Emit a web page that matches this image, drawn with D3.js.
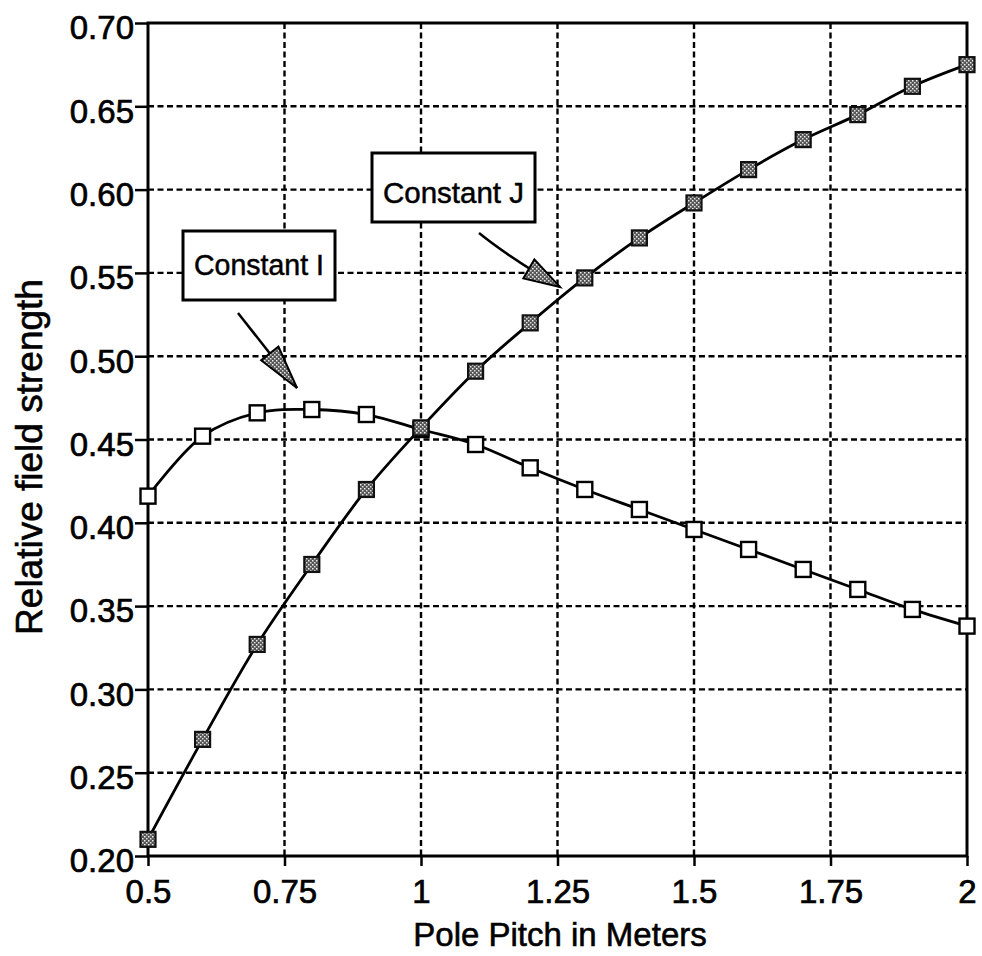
<!DOCTYPE html>
<html><head><meta charset="utf-8">
<script src="https://cdn.jsdelivr.net/npm/d3@7"></script>
<style>body{margin:0;background:#fff}svg{display:block}text{font-family:"Liberation Sans",Arial,sans-serif;fill:#000}</style>
</head><body><svg id="c" width="982" height="956"></svg>
<script>
const xValues = [0.5,0.6,0.7,0.8,0.9,1.0,1.1,1.2,1.3,1.4,1.5,1.6,1.7,1.8,1.9,2.0];
const constantI = [0.416,0.452,0.466,0.468,0.465,0.456,0.447,0.433,0.420,0.408,0.396,0.384,0.372,0.360,0.348,0.338];
const constantJ = [0.210,0.270,0.327,0.375,0.420,0.457,0.491,0.520,0.547,0.571,0.592,0.612,0.630,0.645,0.662,0.675];
const xTicks = [0.5,0.75,1,1.25,1.5,1.75,2];
const xTickLabels = ["0.5","0.75","1","1.25","1.5","1.75","2"];
const yTicks = [0.20,0.25,0.30,0.35,0.40,0.45,0.50,0.55,0.60,0.65,0.70];

const svg = d3.select("#c");
const L=148,R=967,T=23,B=856;
const x = d3.scaleLinear().domain([0.5,2]).range([L,R]);
const y = d3.scaleLinear().domain([0.2,0.7]).range([B,T]);

const defs = svg.append("defs");
const pat = defs.append("pattern").attr("id","hatch").attr("patternUnits","userSpaceOnUse").attr("width",4).attr("height",4);
pat.append("rect").attr("width",4).attr("height",4).attr("fill","#555");
pat.append("rect").attr("x",0).attr("y",0).attr("width",1.5).attr("height",1.5).attr("fill","#eee");
pat.append("rect").attr("x",2).attr("y",2).attr("width",1.5).attr("height",1.5).attr("fill","#ddd");

// grid
const g = svg.append("g");
g.selectAll(".gx").data(xTicks.slice(1,-1)).join("line")
 .attr("x1",d=>x(d)).attr("x2",d=>x(d)).attr("y1",T).attr("y2",B)
 .attr("stroke","#000").attr("stroke-width",2.4).attr("stroke-dasharray","6,3.5");
g.selectAll(".gy").data(yTicks.slice(1,-1)).join("line")
 .attr("y1",d=>y(d)).attr("y2",d=>y(d)).attr("x1",L).attr("x2",R)
 .attr("stroke","#000").attr("stroke-width",2.4).attr("stroke-dasharray","6,3.5");

// axes
const xa = svg.append("g").attr("transform",`translate(0,${B})`)
 .call(d3.axisBottom(x).tickValues(xTicks).tickFormat((d,i)=>xTickLabels[i]).tickSize(10).tickPadding(0));
const ya = svg.append("g").attr("transform",`translate(${L},0)`)
 .call(d3.axisLeft(y).tickValues(yTicks).tickFormat(d3.format(".2f")).tickSize(13).tickPadding(2));
[xa,ya].forEach(a=>{a.select(".domain").remove();a.selectAll("line").attr("stroke","#000").attr("stroke-width",2.5);
 a.selectAll("text").attr("font-size",33).attr("font-family","Liberation Sans, Arial, sans-serif").attr("fill","#000")
  .attr("stroke","#000").attr("stroke-width",0.7);});
xa.selectAll("text").attr("y",47).attr("dy",0);
ya.selectAll("text").attr("x",-14).attr("dy","0.48em");
svg.append("rect").attr("x",L).attr("y",T).attr("width",R-L).attr("height",B-T)
 .attr("fill","none").attr("stroke","#000").attr("stroke-width",3);

// titles
svg.append("text").attr("x",560).attr("y",946).attr("text-anchor","middle").attr("font-size",33)
 .attr("stroke","#000").attr("stroke-width",0.6).text("Pole Pitch in Meters");
svg.append("text").attr("transform",`translate(42,457) rotate(-90)`).attr("text-anchor","middle").attr("font-size",37)
 .attr("stroke","#000").attr("stroke-width",0.6).text("Relative field strength");

// lines
const line = d3.line().x(d=>x(d[0])).y(d=>y(d[1])).curve(d3.curveCatmullRom);
const dI = xValues.map((v,i)=>[v,constantI[i]]);
const dJ = xValues.map((v,i)=>[v,constantJ[i]]);
svg.append("path").attr("d",line(dI)).attr("fill","none").attr("stroke","#000").attr("stroke-width",2.8);
svg.append("path").attr("d",line(dJ)).attr("fill","none").attr("stroke","#000").attr("stroke-width",2.8);

const s=15;
svg.selectAll(".mI").data(dI).join("rect").attr("x",d=>x(d[0])-s/2).attr("y",d=>y(d[1])-s/2)
 .attr("width",s).attr("height",s).attr("fill","#fff").attr("stroke","#000").attr("stroke-width",2.4);
svg.selectAll(".mJ").data(dJ).join("rect").attr("x",d=>x(d[0])-s/2).attr("y",d=>y(d[1])-s/2)
 .attr("width",s).attr("height",s).attr("fill","url(#hatch)").attr("stroke","#111").attr("stroke-width",2.2);

// annotations
function box(x0,y0,w,h,label,base){
 svg.append("rect").attr("x",x0).attr("y",y0).attr("width",w).attr("height",h).attr("fill","#fff").attr("stroke","#000").attr("stroke-width",3);
 svg.append("text").attr("x",x0+w/2).attr("y",base).attr("text-anchor","middle").attr("font-size",30)
  .attr("textLength",w-22).attr("lengthAdjust","spacingAndGlyphs").attr("stroke","#000").attr("stroke-width",0.5).text(label);
}
function arrow(p0,ctrl,tip,hl,hw){
 const pts = ctrl?`M${p0[0]},${p0[1]}Q${ctrl[0]},${ctrl[1]} ${tip[0]},${tip[1]}`:`M${p0[0]},${p0[1]}L${tip[0]},${tip[1]}`;
 svg.append("path").attr("d",pts).attr("fill","none").attr("stroke","#000").attr("stroke-width",2.5);
 const from = ctrl||p0;
 const ang = Math.atan2(tip[1]-from[1],tip[0]-from[0]);
 const bx = tip[0]-hl*Math.cos(ang), by = tip[1]-hl*Math.sin(ang);
 const px = -Math.sin(ang)*hw, py = Math.cos(ang)*hw;
 svg.append("path").attr("d",`M${tip[0]},${tip[1]}L${bx+px},${by+py}L${bx-px},${by-py}Z`)
  .attr("fill","url(#hatch)").attr("stroke","#000").attr("stroke-width",2).attr("stroke-linejoin","miter");
}
box(183,231,152,69,"Constant I",275);
box(372,153,163,69,"Constant J",203);
arrow([238,313],null,[297,388],44,11);
arrow([479,233],[510,258],[560,287],36,11);
</script></body></html>
